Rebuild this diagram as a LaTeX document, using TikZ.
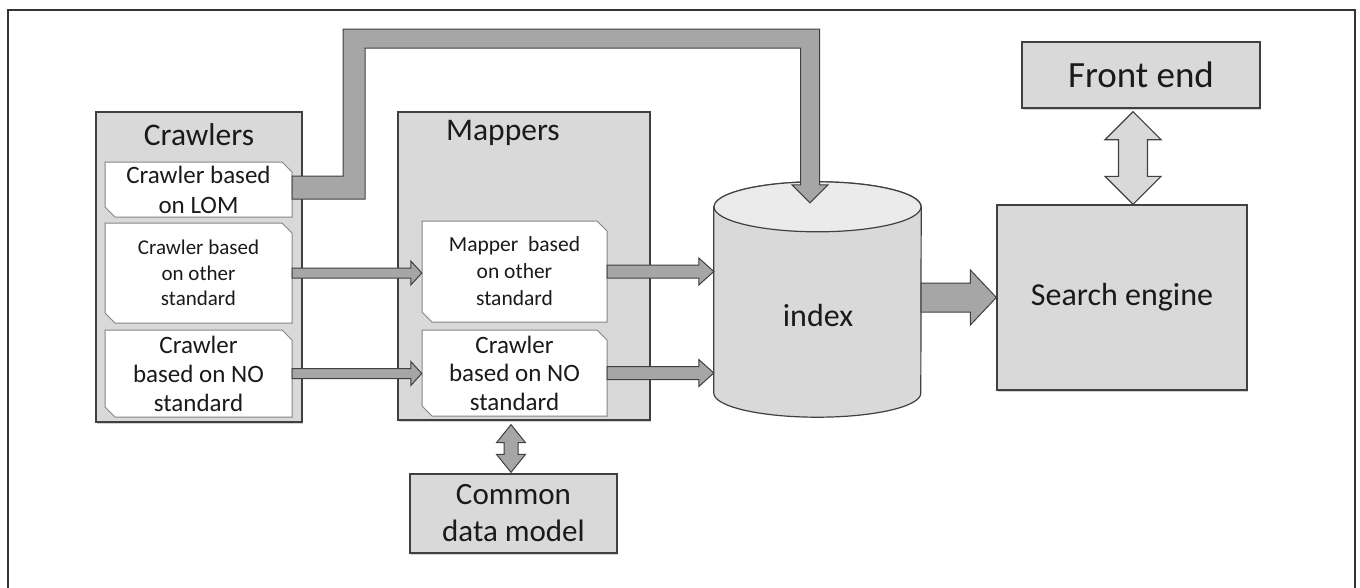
\documentclass[tikz,border=0pt]{standalone}
\usepackage{fontspec}
\setmainfont{Carlito}
\usetikzlibrary{calc,shadows}
\definecolor{boxgray}{HTML}{D9D9D9}
\definecolor{cyltop}{HTML}{EBEBEB}
\definecolor{arrgray}{HTML}{A6A6A6}
\definecolor{linegray}{HTML}{404040}
\definecolor{snipgray}{HTML}{858585}
\definecolor{txt}{HTML}{1A1A1A}
\newcommand\fs[2]{\fontsize{#1pt}{#2pt}\selectfont}
% snip-corner box: name, x1, y1, x2, y2, font, text
\newcommand\snipbox[7]{%
  \draw[snipline] (#2,#3) -- ({#4-10},#3) -- (#4,{#3+10}) -- (#4,#5) -- ({#2+10},#5) -- (#2,{#5-10}) -- cycle;
  \node[inner sep=0pt, minimum width={((#4)-(#2))*1pt}, minimum height={((#5)-(#3))*1pt}, align=center, text=txt, font=#6] (#1) at ({(#2+#4)/2},{(#3+#5)/2}) {#7};}
% horizontal block arrow: from, to, shaft half, head half, head length, style
\newcommand\harrow[6]{%
  \path[#6] let \p1=(#1), \p2=(#2) in
    (\x1,{\y1+#3}) -- ({\x2-#5},{\y1+#3}) -- ({\x2-#5},{\y1+#4}) -- (\x2,\y1)
    -- ({\x2-#5},{\y1-#4}) -- ({\x2-#5},{\y1-#3}) -- (\x1,{\y1-#3}) -- cycle;}
% vertical double block arrow: top tip, bottom tip, shaft half, head half, head length, style
\newcommand\vdarrow[6]{%
  \path[#6] let \p1=(#1), \p2=(#2) in
    (\x1,\y1) -- ({\x1+#4},{\y1-#5}) -- ({\x1+#3},{\y1-#5}) -- ({\x1+#3},{\y2+#5})
    -- ({\x1+#4},{\y2+#5}) -- (\x1,\y2) -- ({\x1-#4},{\y2+#5}) -- ({\x1-#3},{\y2+#5})
    -- ({\x1-#3},{\y1-#5}) -- ({\x1-#4},{\y1-#5}) -- cycle;}
\begin{document}
\begin{tikzpicture}[x=1pt,y=-1pt,
  frame/.style={draw=black!80, line width=1.5pt},
  bigbox/.style={draw=linegray, fill=boxgray, line width=1.3pt, inner sep=0pt,
    drop shadow={shadow xshift=1.2pt, shadow yshift=-1.5pt, opacity=0.35}},
  snipline/.style={draw=snipgray, fill=white, line width=1pt},
  title/.style={text=txt, inner sep=0pt},
  blk/.style={draw=linegray, fill=arrgray, line width=1pt, line join=miter},
  lightblk/.style={draw=linegray, fill=boxgray, line width=1.2pt, line join=miter},
  cyl/.style={draw=linegray, fill=boxgray, line width=1.2pt}]
\useasboundingbox (0,0) rectangle (1360,587);
\fill[white] (0,0) rectangle (1360,587);
\draw[frame] (8,600) -- (8,10) -- (1355,10) -- (1355,600);

% group boxes
\node[bigbox, minimum width=206pt, minimum height=310pt] (crawlers) at (199,267) {};
\node[title, font=\fs{31.5}{36}] (crawlerst) at (199,135) {Crawlers};
\node[bigbox, minimum width=252pt, minimum height=308pt] (mappers) at (524,266) {};
\node[title, font=\fs{31.5}{36}] (mapperst) at (503,133) {Mappers};

% inner snipped boxes
\snipbox{lom}{105}{162}{292}{217}{\fs{25}{30}}{Crawler based\\on LOM}
\snipbox{co}{105}{223}{292}{323}{\fs{21}{25.5}}{Crawler based\\on other\\standard}
\snipbox{cn}{105}{330}{292}{417}{\fs{25}{29}}{Crawler\\based on NO\\standard}
\snipbox{mo}{422}{221}{607}{322}{\fs{21.5}{27}}{Mapper\ \ based\\on other\\standard}
\snipbox{mn}{422}{330}{607}{416}{\fs{25}{28.5}}{Crawler\\based on NO\\standard}

% index cylinder
\node[inner sep=0pt, minimum width=207pt, minimum height=235pt] (index) at (817.5,299.5) {};
\draw[cyl] ($(index.north west)+(0,25)$) -- ($(index.south west)+(0,-24)$)
  arc[start angle=180, end angle=360, x radius=103.5pt, y radius=24pt]
  -- ($(index.north east)+(0,25)$)
  arc[start angle=0, end angle=180, x radius=103.5pt, y radius=25pt] -- cycle;
\draw[cyl, fill=cyltop] ($(index.north)+(0,25)$) ellipse[x radius=103.5pt, y radius=25pt];
\node[title, font=\fs{32}{38}] (indext) at (818,315) {index};

% search engine, front end, common data model
\node[bigbox, minimum width=250pt, minimum height=185pt, text=txt, font=\fs{32}{38}] (se) at (1122,297.5) {Search engine};
\node[bigbox, minimum width=238pt, minimum height=66pt, text=txt, font=\fs{37}{44}] (fe) at (1141,75) {Front end};
\node[bigbox, minimum width=207pt, minimum height=79pt, align=center, text=txt, font=\fs{31}{37}] (cdm) at (513.5,513.5) {Common\\data model};

% connectors
\path[blk] let \p1=(lom.east), \p2=($(index.north)+(-7.5,21)$) in
  (\x1,{\y1+13.5pt}) -- ({\x1+51pt},{\y1+13.5pt}) -- ({\x1+51pt},-29pt)
  -- ({\x2+9.5pt},-29pt) -- ({\x2+9.5pt},{\y2+18pt}) -- ({\x2+18pt},{\y2+18pt})
  -- (\x2,\y2) -- ({\x2-18pt},{\y2+18pt}) -- ({\x2-9.5pt},{\y2+18pt})
  -- ({\x2-9.5pt},-48pt) -- ({\x1+73pt},-48pt) -- ({\x1+73pt},{\y1-9.5pt})
  -- (\x1,{\y1-9.5pt}) -- cycle;

\harrow{co.east}{mo.west}{5pt}{12pt}{11pt}{blk}
\harrow{cn.east}{mn.west}{5pt}{12pt}{11pt}{blk}
\harrow{mo.east}{index.west}{6.5pt}{13.5pt}{15pt}{blk}
\harrow{mn.east}{index.west}{6.5pt}{13.5pt}{15pt}{blk}
\harrow{index.east |- se.west}{se.west}{14.5pt}{27.5pt}{26pt}{blk}

\vdarrow{$(fe.south)+(-8,3)$}{$(se.north)+(11,0)$}{14.5pt}{28pt}{28pt}{lightblk}
\vdarrow{$(mappers.south -| cdm.north)+(-2.5,4)$}{$(cdm.north)+(-2.5,-1)$}{7pt}{14.5pt}{18pt}{blk}
\end{tikzpicture}
\end{document}
